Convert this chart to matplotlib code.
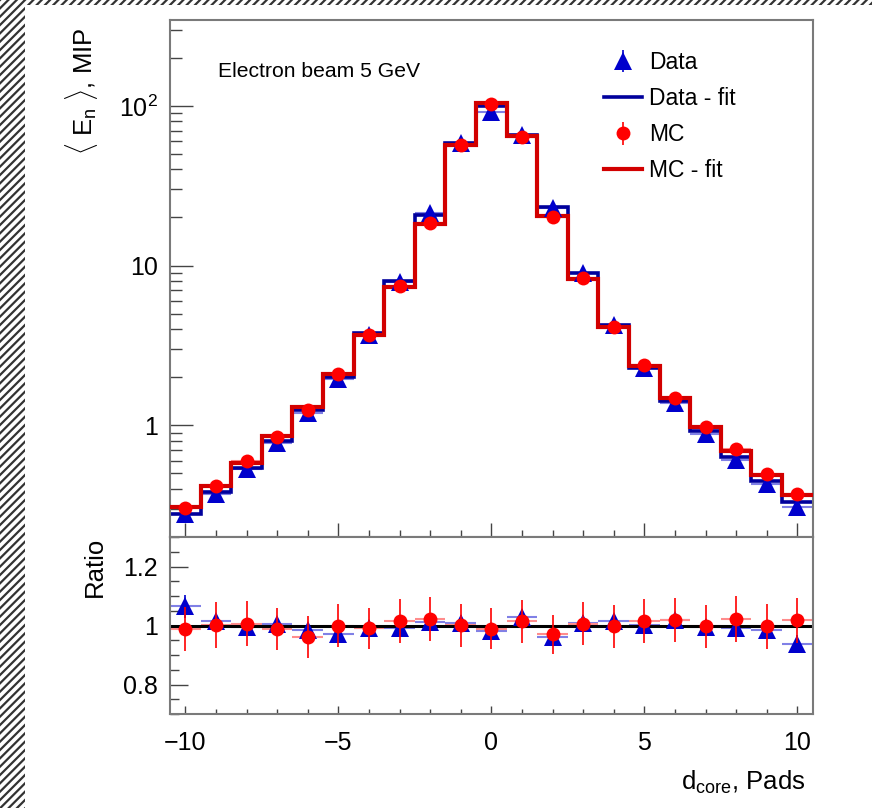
import numpy as np
import matplotlib
matplotlib.use("Agg")
import matplotlib.pyplot as plt
from matplotlib.patches import Rectangle
from matplotlib.ticker import FixedLocator, FixedFormatter, MultipleLocator, LogLocator, NullFormatter

plt.rcParams['font.family'] = ['Liberation Sans', 'DejaVu Sans']
plt.rcParams['mathtext.fontset'] = 'custom'
plt.rcParams['mathtext.rm'] = 'Liberation Sans'
plt.rcParams['mathtext.it'] = 'Liberation Sans:italic'
plt.rcParams['mathtext.bf'] = 'Liberation Sans:bold'
plt.rcParams['hatch.linewidth'] = 1.6

# ---- data: mean energy per pad vs distance from shower core ----
d_core = np.arange(-10, 11)

data_mean = [0.28, 0.37, 0.53, 0.77, 1.20, 1.95, 3.70, 7.9, 21.4, 58.5, 92.0,
             66.0, 23.0, 9.0, 4.26, 2.29, 1.37, 0.88, 0.61, 0.43, 0.306]
data_fit = [0.277, 0.38, 0.544, 0.80, 1.24, 2.02, 3.79, 7.97, 20.8, 58.5, 100.0,
            65.9, 23.3, 9.0, 4.22, 2.29, 1.41, 0.92, 0.637, 0.449, 0.329]
mc_mean = [0.302, 0.42, 0.595, 0.85, 1.25, 2.11, 3.67, 7.5, 18.6, 56.5, 103.0,
           64.0, 20.1, 8.4, 4.11, 2.40, 1.49, 0.976, 0.708, 0.499, 0.374]
mc_fit = [0.307, 0.42, 0.585, 0.857, 1.30, 2.11, 3.70, 7.32, 18.3, 56.5, 104.0,
          64.3, 20.5, 8.26, 4.14, 2.35, 1.49, 0.98, 0.69, 0.492, 0.369]

ratio_data = [1.065, 1.015, 0.995, 1.005, 0.985, 0.972, 0.993, 0.99, 1.011, 1.01, 0.98,
              1.03, 0.96, 1.01, 1.015, 1.002, 1.017, 0.996, 0.99, 0.986, 0.937]
ratio_data_err = [0.04, 0.025, 0.025, 0.025, 0.025, 0.025, 0.025, 0.025, 0.025, 0.025, 0.025,
                  0.025, 0.025, 0.025, 0.025, 0.025, 0.025, 0.025, 0.025, 0.025, 0.03]
ratio_mc = [0.987, 1.001, 1.006, 0.989, 0.961, 1.0, 0.99, 1.015, 1.022, 1.001, 0.989,
            1.015, 0.97, 1.006, 0.998, 1.015, 1.018, 0.998, 1.022, 0.998, 1.017]
ratio_mc_err = [0.075, 0.077, 0.076, 0.071, 0.07, 0.073, 0.07, 0.074, 0.074, 0.073, 0.07,
                0.073, 0.067, 0.073, 0.073, 0.076, 0.075, 0.073, 0.079, 0.076, 0.076]

x_ticks = [-10, -5, 0, 5, 10]
x_ticklabels = ['\u221210', '\u22125', '0', '5', '10']
y_ticks = [1, 10, 100]
y_ticklabels = ['1', '10', r'$10^{2}$']
r_ticks = [0.8, 1.0, 1.2]
r_ticklabels = ['0.8', '1', '1.2']

# ---- styling ----
BLUE_MK = '#0000cc'
BLUE_LN = '#00009c'
BLUE_LIGHT = '#8080e6'
RED_MK = '#ff0000'
RED_LN = '#d20000'
RED_LIGHT = '#ff8c8c'
FRAME = '#7a7a7a'

W, H = 872, 808
fig = plt.figure(figsize=(W / 100, H / 100), dpi=100)
fig.patch.set_facecolor('white')

# hatched page border (left and top)
for (x0, y0, w, h) in [(0, 0, 25 / W, 1), (0, 1 - 5 / H, 1, 5 / H)]:
    fig.patches.append(Rectangle((x0, y0), w, h, transform=fig.transFigure,
                                 facecolor='white', edgecolor='#333333',
                                 hatch='////', linewidth=0, zorder=-5))

left, right = 170 / W, 812.7 / W
ax1 = fig.add_axes([left, 1 - 537 / H, right - left, (537 - 19.5) / H])
ax2 = fig.add_axes([left, 1 - 714 / H, right - left, (714 - 537) / H])

edges = np.append(d_core - 0.5, d_core[-1] + 0.5)
xerr = np.full(len(d_core), 0.5)

# ---- upper panel ----
ax1.errorbar(d_core, data_mean, xerr=xerr, fmt='none', ecolor=BLUE_LIGHT, elinewidth=1.5, zorder=1)
ax1.errorbar(d_core, mc_mean, xerr=xerr, fmt='none', ecolor=RED_LIGHT, elinewidth=1.5, zorder=1)
ax1.stairs(data_fit, edges, baseline=None, color=BLUE_LN, linewidth=2.6, zorder=2)
ax1.stairs(mc_fit, edges, baseline=None, color=RED_LN, linewidth=3.0, zorder=3)
h_data = ax1.errorbar(d_core, data_mean, yerr=np.array(data_mean) * 0.02, fmt='^',
                      color=BLUE_MK, ecolor=BLUE_MK, markersize=13, elinewidth=1.2,
                      markeredgewidth=0, zorder=4)
h_mc = ax1.errorbar(d_core, mc_mean, yerr=np.array(mc_mean) * 0.03, fmt='o',
                    color=RED_MK, ecolor=RED_MK, markersize=10, elinewidth=1.2,
                    markeredgewidth=0, zorder=5)
h_dfit, = ax1.plot([], [], color=BLUE_LN, linewidth=2.6)
h_mfit, = ax1.plot([], [], color=RED_LN, linewidth=3.0)

ax1.set_yscale('log')
ax1.set_xlim(-10.5, 10.5)
ax1.set_ylim(0.2, 347)
ax1.yaxis.set_major_locator(FixedLocator(y_ticks))
ax1.yaxis.set_major_formatter(FixedFormatter(y_ticklabels))
ax1.yaxis.set_minor_locator(LogLocator(base=10, subs=np.arange(2, 10)))
ax1.yaxis.set_minor_formatter(NullFormatter())
ax1.xaxis.set_major_locator(FixedLocator(x_ticks))
ax1.xaxis.set_minor_locator(MultipleLocator(1))
ax1.tick_params(axis='y', which='major', direction='in', length=16.5, width=1.0,
                color='#444444', labelsize=18, pad=8.5, right=False)
ax1.tick_params(axis='y', which='minor', direction='in', length=8.6, width=1.0,
                color='#444444', right=False)
ax1.tick_params(axis='x', which='major', direction='in', length=10, width=1.0,
                color='#444444', labelbottom=False, top=False)
ax1.tick_params(axis='x', which='minor', direction='in', length=5, width=1.0,
                color='#444444', top=False)

ax1.set_ylabel(r'$\langle$ E$_{\mathrm{n}}$ $\rangle$, MIP', fontsize=18.5, loc='top')
ax1.yaxis.set_label_coords((100 - 170) / 642.7, (537 - 28) / 517.5)

ax1.text((218 - 170) / 642.7, (537 - 77) / 517.5, 'Electron beam 5 GeV',
         transform=ax1.transAxes, fontsize=15.2, ha='left', va='baseline')

ax1.legend([h_data, h_dfit, h_mc, h_mfit], ['Data', 'Data - fit', 'MC', 'MC - fit'],
           loc='upper left', bbox_to_anchor=((604 - 170) / 642.7, (537 - 51) / 517.5),
           frameon=False, fontsize=16.5, handlelength=1.65, handletextpad=0.3,
           labelspacing=0.57, borderpad=0, borderaxespad=0)

# ---- ratio panel ----
ax2.errorbar(d_core, ratio_data, xerr=xerr, fmt='none', ecolor=BLUE_LIGHT, elinewidth=1.5,
             linestyle='--', zorder=1)
ax2.errorbar(d_core, ratio_mc, xerr=xerr, fmt='none', ecolor=RED_LIGHT, elinewidth=1.5, zorder=1)
ax2.axhline(1.0, color='black', linewidth=2.2, zorder=2)
ax2.errorbar(d_core, ratio_data, yerr=ratio_data_err, fmt='^', color=BLUE_MK, ecolor=BLUE_MK,
             markersize=13, elinewidth=1.2, markeredgewidth=0, zorder=3)
ax2.errorbar(d_core, ratio_mc, yerr=ratio_mc_err, fmt='o', color=RED_MK, ecolor=RED_MK,
             markersize=10, elinewidth=1.2, markeredgewidth=0, zorder=4)

ax2.set_xlim(-10.5, 10.5)
ax2.set_ylim(0.7, 1.3)
ax2.xaxis.set_major_locator(FixedLocator(x_ticks))
ax2.xaxis.set_major_formatter(FixedFormatter(x_ticklabels))
ax2.xaxis.set_minor_locator(MultipleLocator(1))
ax2.yaxis.set_major_locator(FixedLocator(r_ticks))
ax2.yaxis.set_major_formatter(FixedFormatter(r_ticklabels))
ax2.yaxis.set_minor_locator(MultipleLocator(0.05))
ax2.tick_params(axis='y', which='major', direction='in', length=13, width=1.0,
                color='#444444', labelsize=18, pad=8.5, right=False)
ax2.tick_params(axis='y', which='minor', direction='in', length=6.5, width=1.0,
                color='#444444', right=False)
ax2.tick_params(axis='x', which='major', direction='in', length=6, width=1.0,
                color='#444444', labelsize=18, pad=12, top=False)
ax2.tick_params(axis='x', which='minor', direction='in', length=3.5, width=1.0,
                color='#444444', top=False)

ax2.set_ylabel('Ratio', fontsize=18.5, loc='top')
ax2.yaxis.set_label_coords((107 - 170) / 642.7, 1.0)
ax2.set_xlabel(r'd$_{\mathrm{core}}$, Pads', fontsize=18.5, loc='right')
ax2.xaxis.set_label_coords((805 - 170) / 642.7, (714 - 769) / 177)

for ax in (ax1, ax2):
    for sp in ax.spines.values():
        sp.set_color(FRAME)
        sp.set_linewidth(1.5)

fig.savefig('out.png', dpi=100, facecolor='white')
